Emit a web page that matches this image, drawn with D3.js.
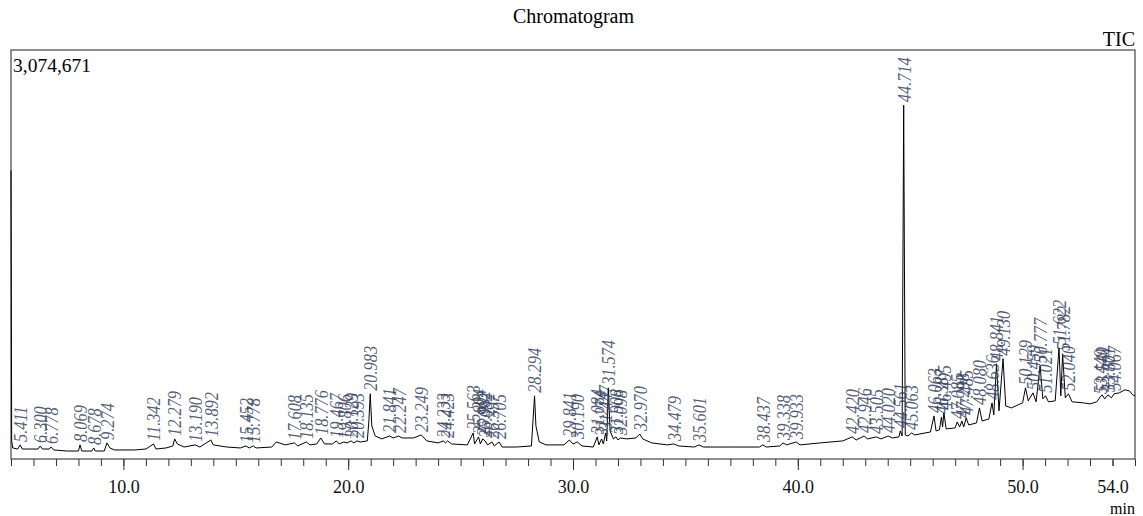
<!DOCTYPE html>
<html>
<head>
<meta charset="utf-8">
<script src="https://cdn.jsdelivr.net/npm/d3@7"></script>
<style>
body { margin: 0; background: #fff; }
text { font-family: "Liberation Serif", "Times New Roman", serif; }
</style>
</head>
<body>
<script>
let width = 1143;
let height = 516;
let margin = {
	top: 50,
	right: 8,
	bottom: 57,
	left: 11
};

// TIC trace: [retention time (min), intensity (thousands of counts)]
let trace = [
	[5.00, 2170], [5.03, 136], [5.08, 83], [5.30, 75], [5.41, 106], [5.50, 75],
	[6.20, 75], [6.30, 98], [6.40, 75], [6.70, 75], [6.78, 90], [6.90, 68],
	[7.50, 60], [8.00, 60], [8.07, 106], [8.15, 60], [8.60, 60], [8.68, 83], [8.75, 60],
	[9.15, 60], [9.27, 121], [9.40, 83], [9.60, 68], [10.5, 68], [11.0, 75],
	[11.34, 113], [11.45, 75], [11.9, 83], [12.2, 98], [12.28, 151], [12.4, 113],
	[12.7, 90], [13.19, 106], [13.4, 90], [13.89, 143], [14.0, 106], [14.6, 90],
	[15.2, 83], [15.45, 98], [15.6, 83], [15.78, 98], [15.9, 83], [16.6, 90],
	[16.8, 128], [17.2, 106], [17.61, 121], [17.75, 98], [18.14, 128], [18.3, 106],
	[18.6, 113], [18.78, 158], [18.95, 113], [19.3, 113], [19.47, 136], [19.6, 113],
	[19.81, 128], [19.95, 121], [20.13, 136], [20.25, 121], [20.39, 136], [20.55, 128],
	[20.85, 136], [20.92, 286], [20.98, 490], [21.05, 249], [21.2, 173], [21.5, 151],
	[21.84, 173], [22.0, 158], [22.25, 173], [22.4, 158], [22.9, 158], [23.25, 181],
	[23.5, 136], [24.0, 121], [24.23, 136], [24.33, 121], [24.42, 136], [24.6, 113],
	[25.3, 106], [25.56, 196], [25.62, 113], [25.80, 166], [25.88, 113], [25.98, 151],
	[26.09, 136], [26.2, 106], [26.40, 128], [26.5, 98], [26.71, 128], [26.85, 90],
	[27.5, 90], [28.15, 98], [28.29, 475], [28.35, 249], [28.5, 128], [28.8, 106],
	[29.6, 106], [29.84, 143], [30.0, 113], [30.19, 128], [30.4, 98], [30.9, 90],
	[31.08, 166], [31.15, 106], [31.27, 151], [31.35, 113], [31.45, 196], [31.50, 136],
	[31.57, 535], [31.65, 211], [31.8, 151], [31.91, 166], [32.0, 143], [32.10, 158],
	[32.4, 151], [32.8, 158], [32.97, 188], [33.1, 151], [33.5, 121], [34.2, 106],
	[34.48, 113], [34.7, 98], [35.4, 90], [35.6, 106], [35.8, 90], [37.0, 90],
	[38.3, 90], [38.44, 106], [38.6, 90], [39.2, 98], [39.34, 121], [39.5, 106],
	[39.93, 128], [40.1, 106], [41.0, 121], [42.0, 136], [42.42, 166], [42.6, 143],
	[42.95, 173], [43.1, 151], [43.5, 166], [43.7, 151], [44.02, 173], [44.2, 158],
	[44.50, 166], [44.56, 211], [44.64, 173], [44.71, 2660], [44.78, 181], [44.9, 173],
	[45.06, 196], [45.2, 181], [45.9, 203], [46.06, 324], [46.15, 211], [46.30, 219],
	[46.39, 316], [46.44, 241], [46.50, 347], [46.6, 226], [47.0, 234], [47.09, 279],
	[47.2, 241], [47.30, 286], [47.38, 241], [47.49, 309], [47.6, 256], [47.95, 271],
	[48.08, 384], [48.2, 286], [48.5, 301], [48.64, 422], [48.72, 332], [48.84, 716],
	[48.95, 362], [49.13, 754], [49.25, 399], [49.5, 384], [49.8, 407], [50.0, 422],
	[50.13, 535], [50.25, 437], [50.46, 497], [50.6, 430], [50.78, 701], [50.9, 452],
	[51.02, 475], [51.15, 430], [51.45, 437], [51.62, 836], [51.70, 475], [51.78, 791],
	[51.9, 460], [52.04, 490], [52.2, 430], [52.7, 422], [53.0, 414], [53.3, 430],
	[53.45, 467], [53.54, 482], [53.65, 452], [53.80, 482], [53.95, 460], [54.07, 490],
	[54.3, 497], [54.55, 520], [54.75, 512], [54.9, 482], [55.0, 475]
];

let peakLabels = [
	"5.411", "6.300", "6.778", "8.069", "8.678", "9.274", "11.342", "12.279",
	"13.190", "13.892", "15.452", "15.778", "17.608", "18.135", "18.776", "19.467",
	"19.806", "20.129", "20.393", "20.983", "21.841", "22.247", "23.249", "24.233",
	"24.423", "25.563", "25.804", "25.982", "26.092", "26.397", "26.705", "28.294",
	"29.841", "30.190", "31.084", "31.274", "31.447", "31.574", "31.908", "32.098",
	"32.970", "34.479", "35.601", "38.437", "39.338", "39.933", "42.420", "42.946",
	"43.505", "44.020", "44.561", "44.714", "45.063", "46.063", "46.387", "46.495",
	"47.085", "47.298", "47.485", "48.080", "48.636", "48.841", "49.130", "50.129",
	"50.459", "50.777", "51.021", "51.622", "51.782", "52.040", "53.449", "53.540",
	"53.801", "54.067"
];

let xDomain = [5, 55];
let yMax = 3074671;
let minorTicks = d3.range(5, 56, 1);
let majorTicks = [10, 20, 30, 40, 50, 54];

let svg = d3.select("body").append("svg")
							.attr("width", width)
							.attr("height", height);

let x = d3.scaleLinear()
			.domain(xDomain)
			.range([margin.left, width - margin.right]);

let y = d3.scaleLinear()
			.domain([0, yMax / 1000])
			.range([height - margin.bottom, margin.top]);

let bottom = height - margin.bottom;

// titles
svg.append("text")
	.text("Chromatogram")
	.attr("x", width / 2 + 2)
	.attr("y", 23)
	.attr("text-anchor", "middle")
	.style("font-size", "20px");

svg.append("text")
	.text("TIC")
	.attr("x", width - margin.right)
	.attr("y", 46)
	.attr("text-anchor", "end")
	.style("font-size", "20px");

svg.append("text")
	.text(d3.format(",")(yMax))
	.attr("x", margin.left + 2)
	.attr("y", 72)
	.style("font-size", "19.5px");

// axis ticks
svg.append("g")
	.attr("transform", `translate(0,${bottom})`)
	.call(d3.axisBottom(x).tickValues(minorTicks).tickSize(7).tickFormat(""))
	.call(g => g.select(".domain").remove())
	.selectAll("line").attr("stroke", "#333");

let major = svg.append("g")
	.attr("transform", `translate(0,${bottom})`)
	.call(d3.axisBottom(x).tickValues(majorTicks).tickSize(11).tickPadding(10).tickFormat(d3.format(".1f")))
	.call(g => g.select(".domain").remove());

major.selectAll("line")
	.attr("stroke", "#333")
	.attr("y2", d => d == 54 ? 7 : 11);

major.selectAll("text")
	.attr("fill", "#111")
	.style("font-size", "18px")
	.style("font-family", "'Liberation Serif', serif");

svg.append("text")
	.text("min")
	.attr("x", width - margin.right)
	.attr("y", 514)
	.attr("text-anchor", "end")
	.style("font-size", "16px");

// frame
svg.append("rect")
	.attr("x", margin.left)
	.attr("y", margin.top)
	.attr("width", width - margin.left - margin.right)
	.attr("height", bottom - margin.top)
	.attr("fill", "none")
	.attr("stroke", "#444")
	.attr("stroke-width", 1.2);

// trace
let line = d3.line()
			.x(d => x(d[0]))
			.y(d => y(d[1]));

svg.append("path")
	.datum(trace)
	.attr("d", line)
	.attr("fill", "none")
	.attr("stroke", "#000")
	.attr("stroke-width", 1);

// peak labels sit on top of the highest trace point near their retention time
function apex(rt){
	let near = trace.filter(d => Math.abs(d[0] - rt) <= 0.06);
	return d3.max(near, d => d[1]);
}

svg.selectAll(".peak")
	.data(peakLabels)
	.enter()
	.append("text")
	.attr("class", "peak")
	.attr("transform", d => `translate(${x(+d)},${y(apex(+d)) - 3}) rotate(-90) scale(1.02,1.22)`)
	.attr("dy", "0.35em")
	.text(d => d)
	.attr("fill", "#34405e")
	.attr("fill-opacity", 0.85)
	.style("font-style", "italic")
	.style("font-size", "16px");
</script>
</body>
</html>
